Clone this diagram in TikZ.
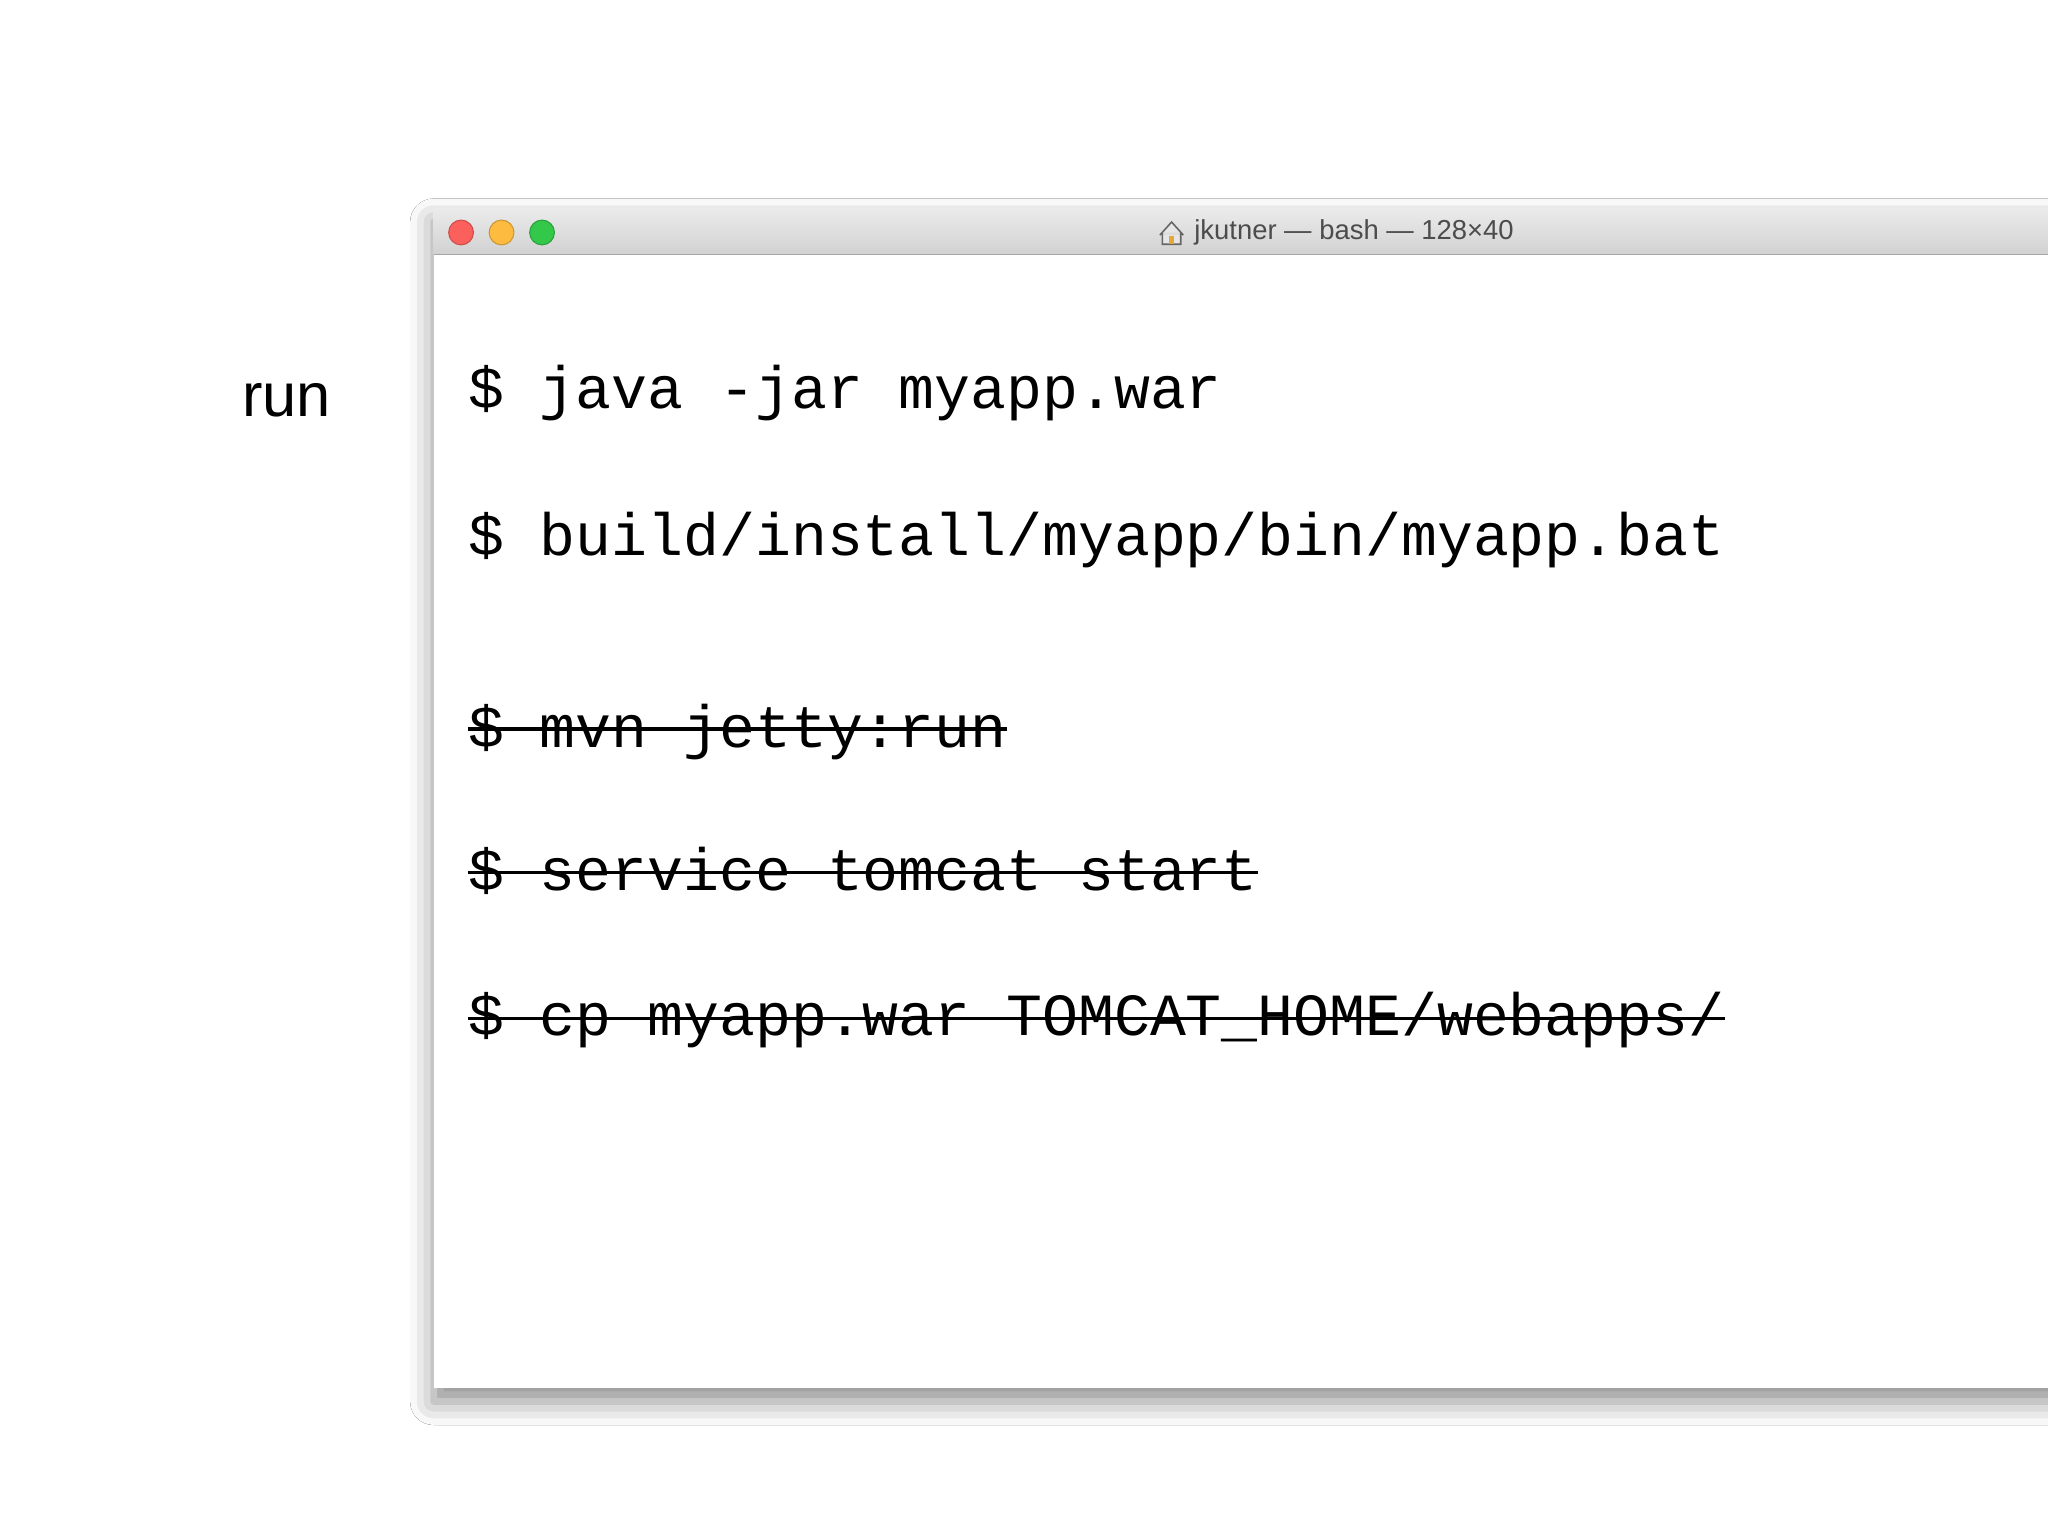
\documentclass[tikz,border=0pt]{standalone}
\usepackage{fontspec}
\setmainfont{Liberation Sans}
\newfontfamily\monof{Liberation Mono}
\usetikzlibrary{shadows.blur}
\definecolor{tlred}{HTML}{FC605C}
\definecolor{tlyel}{HTML}{FDBC40}
\definecolor{tlgrn}{HTML}{34C84A}
\begin{document}
\begin{tikzpicture}[x=0.5pt,y=-0.5pt,
  cmd/.style={anchor=base west,inner sep=0pt,font=\monof\fontsize{22.9}{26}\selectfont},
  strike/.style={line width=1.3pt,black},
  light/.style={circle,minimum size=9.5pt,inner sep=0pt}]
\useasboundingbox[fill=white] (0,0) rectangle (1568,1176);
% window
\fill[white,blur shadow={shadow xshift=0pt,shadow yshift=-5pt,shadow blur radius=9pt,shadow opacity=45}] (332,160) rectangle (1600,1063);
\shade[top color=black!8,bottom color=black!18] (332,160) rectangle (1568,195);
\draw[black!35,line width=0.6pt] (332,195) -- (1568,195);
\node[light,fill=tlred,draw=tlred!80!black] (r) at (353,178) {};
\node[light,fill=tlyel,draw=tlyel!80!black] (y) at (384,178) {};
\node[light,fill=tlgrn,draw=tlgrn!80!black] (g) at (415,178) {};
% home icon
\draw[black!60,line width=0.6pt,fill=black!10] (888,180) -- (897,170) -- (906,180) (890,178) -- (890,187) -- (904,187) -- (904,178);
\fill[tlyel!90!black] (895,181) rectangle (899,187);
\node[anchor=west,inner sep=0pt,font=\fontsize{10.5}{12}\selectfont,text=black!70] (title) at (914,178) {jkutner — bash — 128×40};
% label
\node[anchor=base west,inner sep=0pt,font=\fontsize{23.5}{28}\selectfont] (run) at (185,319) {run};
% commands
\node[cmd] (c1) at (358,313) {\$ java -jar myapp.war};
\node[cmd] (c2) at (358,425) {\$ build/install/myapp/bin/myapp.bat};
\node[cmd] (c3) at (358,572) {\$ mvn jetty:run};
\node[cmd] (c4) at (358,682) {\$ service tomcat start};
\node[cmd] (c5) at (358,793) {\$ cp myapp.war TOMCAT\_HOME/webapps/};
\foreach \n/\yy in {c3/558,c4/668,c5/780}{
  \draw[strike] (\n.west |- 0,\yy) -- (\n.east |- 0,\yy);
}
\end{tikzpicture}
\end{document}
